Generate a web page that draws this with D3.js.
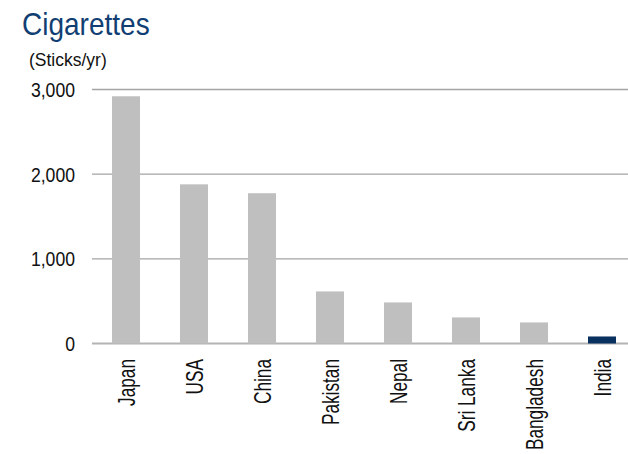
<!DOCTYPE html>
<html>
<head>
<meta charset="utf-8">
<script src="https://cdn.jsdelivr.net/npm/d3@7"></script>
<style>
  html, body { margin: 0; padding: 0; background: #fff; }
  text { font-family: "Liberation Sans", Arial, Helvetica, sans-serif; }
</style>
</head>
<body>
<svg id="chart" width="628" height="454"></svg>
<script>
// Annual cigarette consumption per person
const countries = ["Japan", "USA", "China", "Pakistan", "Nepal", "Sri Lanka", "Bangladesh", "India"];
const sticks = [2920, 1880, 1775, 615, 485, 308, 249, 83];
const highlight = "India";
const yTicks = [0, 1000, 2000, 3000];

const W = 628, H = 454;
const svg = d3.select("#chart");

const x = d3.scaleBand()
  .domain(countries)
  .range([92, 636])
  .paddingInner(40 / 68)
  .paddingOuter(20 / 68);

const y = d3.scaleLinear()
  .domain([0, 3000])
  .range([343.5, 89.5]);

// Title and unit
svg.append("g")
  .attr("transform", "translate(22,35) scale(0.89,1)")
  .append("text")
  .attr("font-size", 31.5)
  .attr("fill", "#123f73")
  .text("Cigarettes");

svg.append("g")
  .attr("transform", "translate(29,65.5)")
  .append("text")
  .attr("font-size", 17.5)
  .attr("fill", "#111")
  .text("(Sticks/yr)");

// Horizontal gridlines
svg.append("g")
  .selectAll("line")
  .data(yTicks)
  .join("line")
  .attr("x1", 92)
  .attr("x2", W)
  .attr("y1", d => y(d))
  .attr("y2", d => y(d))
  .attr("stroke", d => d === 0 ? "#b3b3b3" : "#a3a3a3")
  .attr("stroke-width", d => d === 0 ? 2 : 1.3);

// Y tick labels
const fmt = d3.format(",");
svg.append("g")
  .selectAll("g")
  .data(yTicks)
  .join("g")
  .attr("transform", d => `translate(75,${y(d) + 7.6}) scale(0.84,1)`)
  .append("text")
  .attr("text-anchor", "end")
  .attr("font-size", 21)
  .attr("fill", "#111")
  .text(d => fmt(d));

// Bars
svg.append("g")
  .selectAll("rect")
  .data(countries)
  .join("rect")
  .attr("x", d => x(d))
  .attr("width", x.bandwidth())
  .attr("y", (d, i) => y(sticks[i]))
  .attr("height", (d, i) => y(0) - y(sticks[i]))
  .attr("fill", d => d === highlight ? "#08315f" : "#bfbfbf");

// Category labels, rotated
svg.append("g")
  .selectAll("g")
  .data(countries)
  .join("g")
  .attr("transform", d => `translate(${x(d) + x.bandwidth() / 2 + 8.5},359) rotate(-90) scale(0.75,1)`)
  .append("text")
  .attr("text-anchor", "end")
  .attr("font-size", 23)
  .attr("fill", "#111")
  .text(d => d);
</script>
</body>
</html>
